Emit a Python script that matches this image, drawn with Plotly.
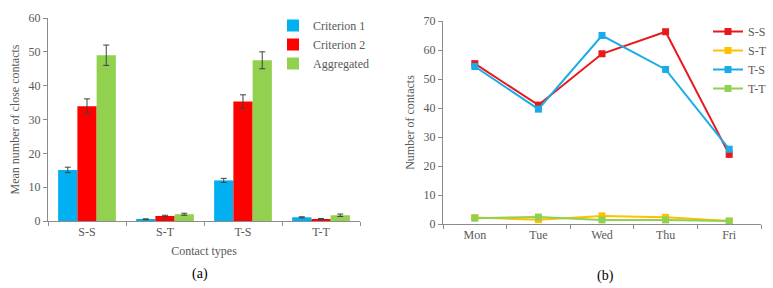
import plotly.graph_objects as go

# Panel (a) data
contact_types = ["S-S", "S-T", "T-S", "T-T"]
criterion1 = [15.1, 0.5, 12.0, 1.1]
criterion1_err = [0.8, 0.15, 0.6, 0.15]
criterion2 = [33.9, 1.5, 35.3, 0.6]
criterion2_err = [2.2, 0.2, 2.0, 0.15]
aggregated = [49.0, 2.0, 47.5, 1.7]
aggregated_err = [3.0, 0.3, 2.5, 0.35]

# Panel (b) data
days = ["Mon", "Tue", "Wed", "Thu", "Fri"]
ss = [55.3, 41.0, 58.7, 66.3, 24.0]
st = [2.2, 1.5, 2.8, 2.3, 1.0]
ts = [54.3, 39.6, 65.0, 53.3, 25.8]
tt = [2.0, 2.4, 1.4, 1.4, 1.0]

FONT = "Liberation Serif, Times New Roman, serif"
TXT = "#595959"
AX = "#8c8c8c"

fig = go.Figure()

def err(vals):
    return dict(type="data", array=vals, visible=True, color="#404040", thickness=1, width=3)

for name, vals, e, col in [("Criterion 1", criterion1, criterion1_err, "#00B0F0"),
                           ("Criterion 2", criterion2, criterion2_err, "#FF0000"),
                           ("Aggregated", aggregated, aggregated_err, "#92D050")]:
    fig.add_trace(go.Bar(x=contact_types, y=vals, name=name, marker_color=col,
                         marker_line_width=0, error_y=err(e), xaxis="x", yaxis="y",
                         legend="legend"))

for name, vals, col in [("S-S", ss, "#E8191C"), ("S-T", st, "#FFC000"),
                        ("T-S", ts, "#1AACE8"), ("T-T", tt, "#92D050")]:
    fig.add_trace(go.Scatter(x=days, y=vals, name=name, mode="lines+markers",
                             line=dict(color=col, width=2),
                             marker=dict(symbol="square", size=7, color=col),
                             xaxis="x2", yaxis="y2", legend="legend2"))

W, H = 773, 288
def fx(p): return p / W
def fy(p): return 1 - p / H

axis_common = dict(showgrid=False, zeroline=False, showline=True, linecolor=AX, linewidth=1,
                   tickfont=dict(family=FONT, size=12, color=TXT), ticks="outside",
                   tickcolor=AX, ticklen=4, automargin=False)

fig.update_layout(
    width=W, height=H, margin=dict(l=0, r=0, t=0, b=0, autoexpand=False),
    paper_bgcolor="white", plot_bgcolor="white",
    font=dict(family=FONT, color=TXT),
    barmode="group", bargap=0.26, bargroupgap=0,
    xaxis=dict(domain=[fx(48), fx(360)], anchor="y", tickson="boundaries",
               title=dict(text="Contact types", font=dict(family=FONT, size=12, color=TXT), standoff=8),
               **axis_common),
    yaxis=dict(domain=[fy(221), fy(18)], anchor="x", range=[0, 60], dtick=10,
               title=dict(text="Mean number of close contacts", font=dict(family=FONT, size=12, color=TXT), standoff=6),
               **axis_common),
    xaxis2=dict(domain=[fx(443), fx(761)], anchor="y2", tickson="boundaries",
                range=[-0.5, 4.5], **axis_common),
    yaxis2=dict(domain=[fy(224), fy(21)], anchor="x2", range=[0, 70], dtick=10,
                title=dict(text="Number of contacts", font=dict(family=FONT, size=12, color=TXT), standoff=6),
                **axis_common),
    legend=dict(x=fx(273), y=fy(11), xanchor="left", yanchor="top",
                font=dict(family=FONT, size=12, color=TXT), bgcolor="rgba(0,0,0,0)",
                itemwidth=30),
    legend2=dict(x=fx(708), y=fy(17), xanchor="left", yanchor="top",
                 font=dict(family=FONT, size=12, color=TXT), bgcolor="rgba(0,0,0,0)",
                 itemwidth=30),
    showlegend=True,
    annotations=[
        dict(text="(a)", x=fx(200), y=fy(274), xref="paper", yref="paper", showarrow=False,
             xanchor="center", yanchor="middle",
             font=dict(family=FONT, size=14, color="#000000")),
        dict(text="(b)", x=fx(605), y=fy(276), xref="paper", yref="paper", showarrow=False,
             xanchor="center", yanchor="middle",
             font=dict(family=FONT, size=14, color="#000000")),
    ],
)

fig.write_html("out.html", config={"displayModeBar": False},
               post_script="document.body.style.margin='0';document.body.style.padding='0';")
